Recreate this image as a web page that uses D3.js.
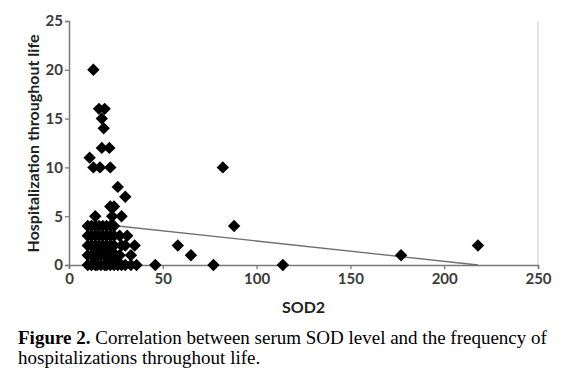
<!DOCTYPE html>
<html><head><meta charset="utf-8">
<script src="https://cdn.jsdelivr.net/npm/d3@7"></script>
<style>body{margin:0;background:#fff}svg{display:block}</style>
</head><body>
<svg id="c" width="564" height="377"></svg>
<script>
// Data: SOD2 (x) and hospitalizations (y)
const sodValues = [
  10,12,14,15,17,19,20,22,24,26,28,30,33,36,46,77,114,
  10,12,13,15,17,19,21,23,25,27,33,65,177,
  10,12,14,16,18,20,22,24,28,30,35,58,218,
  10,12,14,16,18,20,22,24,27,31,
  10,12,14,16,18,20,22,24,88,
  14,23,28,
  22,24,
  30,
  26,
  13,16.5,22,82,
  11,
  17.5,21.5,
  18.5,
  17.5,
  16,19,
  13
];
const hospValues = [
  0,0,0,0,0,0,0,0,0,0,0,0,0,0,0,0,0,
  1,1,1,1,1,1,1,1,1,1,1,1,1,
  2,2,2,2,2,2,2,2,2,2,2,2,2,
  3,3,3,3,3,3,3,3,3,3,
  4,4,4,4,4,4,4,4,4,
  5,5,5,
  6,6,
  7,
  8,
  10,10,10,10,
  11,
  12,12,
  14,
  15,
  16,16,
  20
];
const trendX = [10, 218];
const trendY = [4.33, 0];
const xTicks = [0, 50, 100, 150, 200, 250];
const yTicks = [0, 5, 10, 15, 20, 25];
const xTitle = "SOD2";
const yTitle = "Hospitalization throughout life";

const svg = d3.select("#c");
const x = d3.scaleLinear().domain([0, 250]).range([69, 538]);
const y = d3.scaleLinear().domain([0, 25]).range([265, 21]);

// right border
svg.append("line").attr("x1", 538).attr("x2", 538).attr("y1", 21).attr("y2", 265)
  .attr("stroke", "#dcdcdc").attr("stroke-width", 1.5);

const axisFont = "Lato, 'Open Sans', sans-serif";
const xAxis = svg.append("g").attr("transform", "translate(0,265)")
  .call(d3.axisBottom(x).tickValues(xTicks).tickSize(4).tickPadding(4));
const yAxis = svg.append("g").attr("transform", "translate(69,0)")
  .call(d3.axisLeft(y).tickValues(yTicks).tickSize(4).tickPadding(2));
[xAxis, yAxis].forEach(g => {
  g.select(".domain").attr("stroke", "#7a7a7a").attr("stroke-width", 1.5);
  g.selectAll(".tick line").attr("stroke", "#7a7a7a").attr("stroke-width", 1.3);
  g.selectAll("text").attr("font-family", axisFont).attr("font-weight", "bold")
    .attr("font-size", 15).attr("fill", "#3a3a3a");
});

// trend line
svg.append("line")
  .attr("x1", x(trendX[0])).attr("y1", y(trendY[0]))
  .attr("x2", x(trendX[1])).attr("y2", y(trendY[1]))
  .attr("stroke", "#6e6e6e").attr("stroke-width", 1.3);

// diamonds
const r = 6.2;
const pts = sodValues.map((v, i) => [v, hospValues[i]]);
svg.append("g").selectAll("path").data(pts).join("path")
  .attr("d", d => {
    const cx = x(d[0]), cy = y(d[1]);
    return `M${cx},${cy - r}L${cx + r},${cy}L${cx},${cy + r}L${cx - r},${cy}Z`;
  })
  .attr("fill", "#000");

// axis titles
svg.append("text").attr("x", 303.5).attr("y", 313).attr("text-anchor", "middle")
  .attr("font-family", axisFont).attr("font-weight", "bold").attr("font-size", 16)
  .attr("fill", "#222").text(xTitle);
svg.append("text").attr("transform", "translate(39,143.5) rotate(-90)")
  .attr("text-anchor", "middle")
  .attr("font-family", axisFont).attr("font-weight", "bold").attr("font-size", 16)
  .attr("fill", "#222").text(yTitle);

// caption
const capFont = "'Liberation Serif', 'Times New Roman', serif";
const cap = svg.append("text").attr("x", 18).attr("y", 344)
  .attr("font-family", capFont).attr("font-size", 19).attr("fill", "#000");
cap.append("tspan").attr("font-weight", "bold").text("Figure 2.");
cap.append("tspan").text(" Correlation between serum SOD level and the frequency of");
svg.append("text").attr("x", 18).attr("y", 364)
  .attr("font-family", capFont).attr("font-size", 19).attr("fill", "#000")
  .text("hospitalizations throughout life.");
</script>
</body></html>
